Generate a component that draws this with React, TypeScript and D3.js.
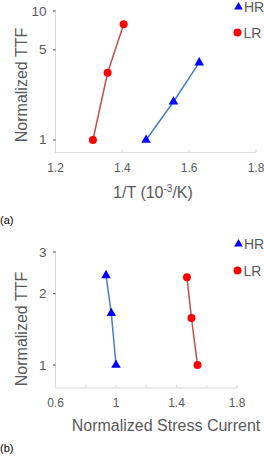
import React from "react";
import * as d3 from "d3";

// Panel (a): Arrhenius plot
const aHR_x = [1.471, 1.553, 1.63];
const aHR_y = [1, 1.98, 3.98];
const aLR_x = [1.312, 1.356, 1.404];
const aLR_y = [1, 3.32, 7.89];
const aXTicks = [1.2, 1.4, 1.6, 1.8];
const aYTicks = [1, 5, 10];

// Panel (b): stress current
const bHR_x = [0.934, 0.969, 1.0];
const bHR_y = [2.39, 1.655, 1];
const bLR_x = [1.469, 1.499, 1.539];
const bLR_y = [2.35, 1.58, 1];
const bXTicks = [0.6, 0.8, 1, 1.2, 1.4, 1.6, 1.8];
const bXLabels = [0.6, 1, 1.4, 1.8];
const bYTicks = [1, 2, 3];

const seriesNames = ["HR", "LR"];

const TEXT = "#595959";
const AXIS = "#d9d9d9";
const FONT = "Liberation Sans, Arial, sans-serif";
const RED_LINE = "#c0504d";
const BLUE_LINE = "#4a7ebb";

function Triangle({ x, y, s = 5 }: { x: number; y: number; s?: number }) {
  const p = d3.symbol().type(d3.symbolTriangle).size(s * s * 1.6)();
  return <path d={p || ""} transform={`translate(${x},${y})`} fill="#0000ff" />;
}

function Panel({
  x0, x1, y0, y1, xDom, yDom, xTicks, xLabels, yTicks, hr, lr, xTitle, xTitleY, xTitleX, yTitleY, legendY, tag, tagY,
}: any) {
  const x = d3.scaleLinear().domain(xDom).range([x0, x1]);
  const y = d3.scaleLog().domain(yDom).range([y1, y0]);
  const line = d3.line<[number, number]>().x((d) => x(d[0])).y((d) => y(d[1]));
  const fmt = (v: number) => (Number.isInteger(v) ? String(v) : v.toFixed(1));
  const hrPts: [number, number][] = hr[0].map((v: number, i: number) => [v, hr[1][i]]);
  const lrPts: [number, number][] = lr[0].map((v: number, i: number) => [v, lr[1][i]]);
  return (
    <g>
      <line x1={x0} x2={x0} y1={y0 - 1} y2={y1} stroke={AXIS} />
      <line x1={x0} x2={x1} y1={y1} y2={y1} stroke={AXIS} />
      {xTicks.map((t: number) => (
        <line key={"xt" + t} x1={x(t)} x2={x(t)} y1={y1} y2={y1 - 3} stroke={AXIS} />
      ))}
      {xLabels.map((t: number) => (
        <text key={"xl" + t} x={x(t)} y={y1 + 19} textAnchor="middle" fontSize={12} fill={TEXT} fontFamily={FONT}>
          {fmt(t)}
        </text>
      ))}
      {yTicks.map((t: number) => (
        <g key={"yt" + t}>
          <line x1={x0 - 2.5} x2={x0} y1={y(t)} y2={y(t)} stroke="#404040" />
          <text x={x0 - 9} y={y(t) + 4.5} textAnchor="end" fontSize={13.5} fill={TEXT} fontFamily={FONT}>
            {t}
          </text>
        </g>
      ))}
      <text x={xTitleX} y={xTitleY} textAnchor="middle" fontSize={16} fill={TEXT} fontFamily={FONT}>
        {xTitle}
      </text>
      <text
        transform={`translate(27,${yTitleY}) rotate(-90)`}
        textAnchor="middle"
        fontSize={16}
        fill={TEXT}
        fontFamily={FONT}
      >
        Normalized TTF
      </text>
      <path d={line(lrPts) || ""} fill="none" stroke={RED_LINE} strokeWidth={1.5} />
      <path d={line(hrPts) || ""} fill="none" stroke={BLUE_LINE} strokeWidth={1.5} />
      {lrPts.map((p, i) => (
        <circle key={"lr" + i} cx={x(p[0])} cy={y(p[1])} r={4} fill="#ff0000" />
      ))}
      {hrPts.map((p, i) => (
        <Triangle key={"hr" + i} x={x(p[0])} y={y(p[1])} />
      ))}
      <Triangle x={238.5} y={legendY[0] + 0.5} s={4.5} />
      <text x={244} y={legendY[0] + 5} fontSize={14} fill={TEXT} fontFamily={FONT}>
        {seriesNames[0]}
      </text>
      <circle cx={237.5} cy={legendY[1]} r={4} fill="#ff0000" />
      <text x={243.5} y={legendY[1] + 5} fontSize={14} fill={TEXT} fontFamily={FONT}>
        {seriesNames[1]}
      </text>
      <text x={0} y={tagY} fontSize={11} fill="#000" fontFamily={FONT}>
        {tag}
      </text>
    </g>
  );
}

export default function App() {
  return (
    <svg width={264} height={464} style={{ position: "absolute", left: 0, top: 0, background: "#fff" }}>
      <rect width={264} height={464} fill="#fff" />
      <Panel
        x0={55.5}
        x1={256}
        y0={11}
        y1={152.5}
        xDom={[1.2, 1.8]}
        yDom={[0.8, 10]}
        xTicks={aXTicks}
        xLabels={aXTicks}
        yTicks={aYTicks}
        hr={[aHR_x, aHR_y]}
        lr={[aLR_x, aLR_y]}
        xTitle={
          <>
            1/T (10
            <tspan dy={-6} fontSize={10}>-3</tspan>
            <tspan dy={6}>/K)</tspan>
          </>
        }
        xTitleX={153}
        xTitleY={197.5}
        yTitleY={85}
        legendY={[6.5, 32.5]}
        tag="(a)"
        tagY={224}
      />
      <Panel
        x0={55.5}
        x1={237}
        y0={252}
        y1={388}
        xDom={[0.6, 1.8]}
        yDom={[0.8, 3]}
        xTicks={bXTicks}
        xLabels={bXLabels}
        yTicks={bYTicks}
        hr={[bHR_x, bHR_y]}
        lr={[bLR_x, bLR_y]}
        xTitle="Normalized Stress Current"
        xTitleX={166}
        xTitleY={431}
        yTitleY={329}
        legendY={[243.5, 270.5]}
        tag="(b)"
        tagY={452}
      />
    </svg>
  );
}
